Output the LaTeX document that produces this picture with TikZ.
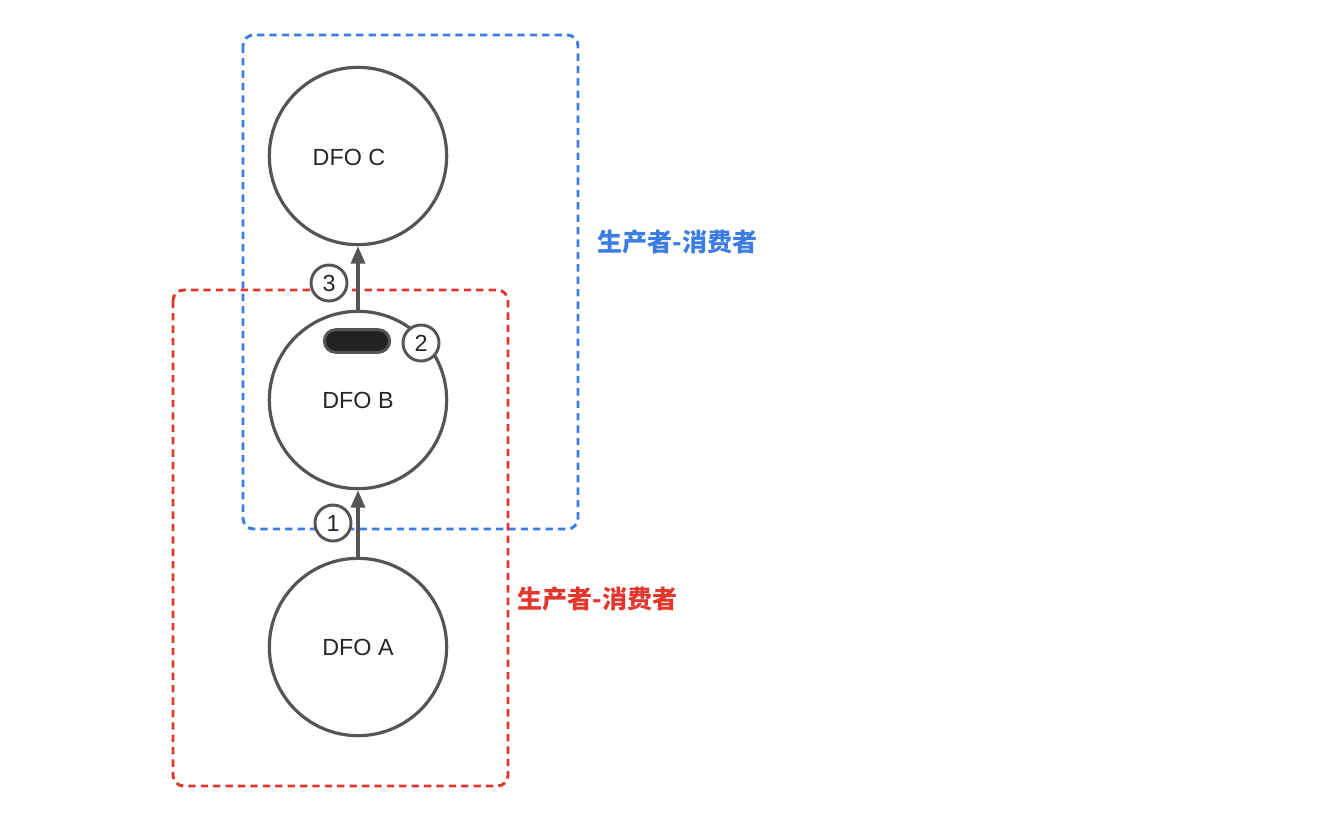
\documentclass[tikz,border=0pt]{standalone}
\usepackage{fontspec}
\setmainfont{Liberation Sans}
\newfontfamily\cjk{Noto Sans CJK SC}
\usetikzlibrary{arrows.meta}
\definecolor{edge}{HTML}{555555}
\definecolor{bluebox}{HTML}{3B7DE3}
\definecolor{redbox}{HTML}{E3362C}
\definecolor{pillfill}{HTML}{222222}
\begin{document}
\begin{tikzpicture}[x=0.75pt,y=-0.75pt,
  dfo/.style={circle,draw=edge,line width=2.4pt,minimum size=133pt,inner sep=0pt},
  dfotext/.style={font=\fontsize{17.5}{20}\selectfont,text=black!85,inner sep=0pt},
  num/.style={circle,draw=edge,line width=2.2pt,fill=white,minimum size=27pt,inner sep=0pt,font=\fontsize{17.5}{20}\selectfont,text=black!85},
  conn/.style={draw=edge,line width=2.4pt,-{Triangle[length=13pt,width=10.5pt]}},
  grp/.style={line width=2.2pt,dash pattern=on 5.5pt off 3.8pt,rounded corners=8pt},
  grplabel/.style={font=\cjk\bfseries\fontsize{18.8}{22}\selectfont,anchor=west,inner sep=0pt}
]
\useasboundingbox (0,0) rectangle (1330,824);
\draw[grp,draw=bluebox] (243,35) rectangle (578,529);
\draw[grp,draw=redbox] (173,290) rectangle (508,786);
\node[dfo] (C) at (358,156) {};
\node[dfo] (B) at (358,400) {};
\node[dfo] (A) at (358,647) {};
\node[dfotext] (Ct) at (349,157) {DFO C};
\node[dfotext] (Bt) at (358,400) {DFO B};
\node[dfotext] (At) at (358,647) {DFO A};
\draw[conn] (A) -- (B);
\draw[conn] (B) -- (C);
\node[draw=edge,line width=2.2pt,fill=pillfill,minimum width=49pt,minimum height=17pt,rounded corners=8.5pt,inner sep=0pt] (pill) at (357,341) {};
\node[num] (n1) at (333,523) {1};
\node[num] (n3) at (329,283) {3};
\node[num] (n2) at (421,343) {2};
\node[grplabel,text=bluebox] (lb) at (597,242) {生产者-消费者};
\node[grplabel,text=redbox] (lr) at (517,599) {生产者-消费者};
\end{tikzpicture}
\end{document}
